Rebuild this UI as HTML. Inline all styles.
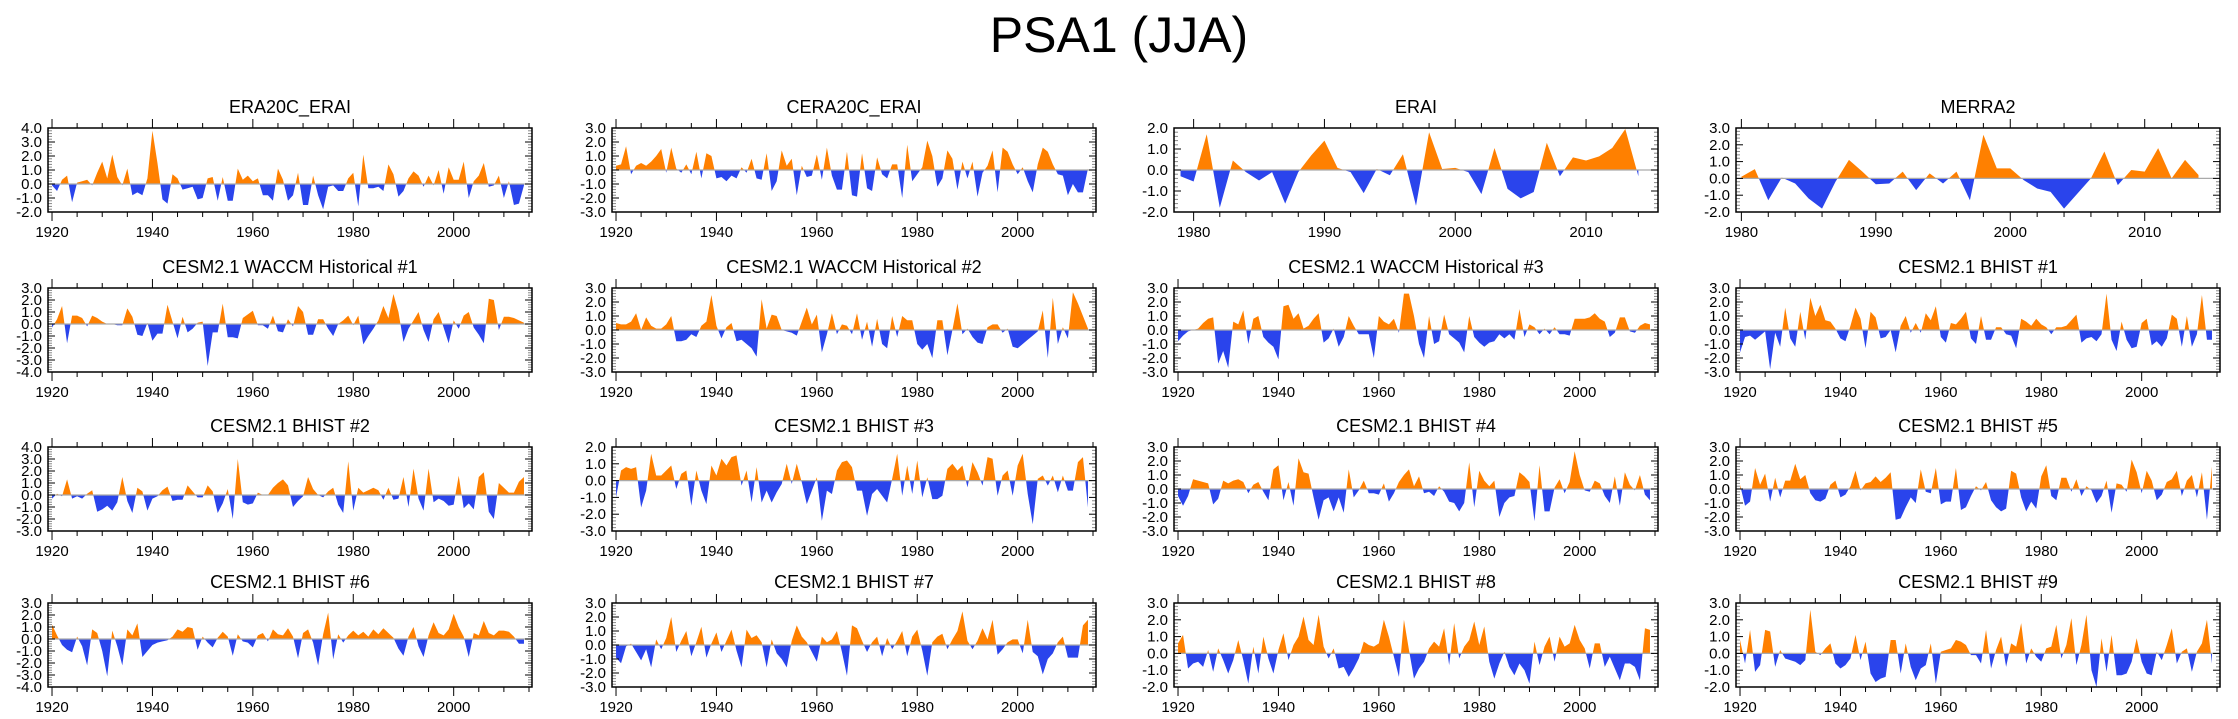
<!DOCTYPE html>
<html><head><meta charset="utf-8"><style>
html,body{margin:0;padding:0;background:#fff}
svg{display:block}
text{font-family:"Liberation Sans",Arial,sans-serif;fill:#000}
</style></head><body>
<svg id="chart" width="2238" height="719" viewBox="0 0 2238 719" xmlns="http://www.w3.org/2000/svg">
<text x="1119" y="52" font-size="50" text-anchor="middle">PSA1 (JJA)</text>
</svg>
<script>
const titles = ["ERA20C_ERAI","CERA20C_ERAI","ERAI","MERRA2",
"CESM2.1 WACCM Historical #1","CESM2.1 WACCM Historical #2","CESM2.1 WACCM Historical #3","CESM2.1 BHIST #1",
"CESM2.1 BHIST #2","CESM2.1 BHIST #3","CESM2.1 BHIST #4","CESM2.1 BHIST #5",
"CESM2.1 BHIST #6","CESM2.1 BHIST #7","CESM2.1 BHIST #8","CESM2.1 BHIST #9"];
const yMaxs = [4,3,2,3, 3,3,3,3, 4,2,3,3, 3,3,3,3];
const yMins = [-2,-3,-2,-2, -4,-3,-3,-3, -3,-3,-3,-3, -4,-3,-2,-2];
const startYears = [1920,1920,1979,1980, 1920,1920,1920,1920, 1920,1920,1920,1920, 1920,1920,1920,1920];
const xMins = [1919.2,1919.2,1978.5,1979.6, 1919.2,1919.2,1919.2,1919.2, 1919.2,1919.2,1919.2,1919.2, 1919.2,1919.2,1919.2,1919.2];
const xMaxs = [2015.6,2015.6,2015.5,2015.6, 2015.6,2015.6,2015.6,2015.6, 2015.6,2015.6,2015.6,2015.6, 2015.6,2015.6,2015.6,2015.6];
const xTickLabels = [[1920,1940,1960,1980,2000],[1980,1990,2000,2010]];

const s_era20c = [-0.1,-0.5,0.3,0.6,-1.3,0.1,0.2,0.3,-0.1,0.8,1.6,0.4,2.1,0.5,-0.1,1.1,-0.8,-0.6,-0.8,0.4,3.8,1.5,-1.1,-1.4,0.7,0.4,-0.4,-0.3,-0.2,-1.1,-1.0,0.4,0.5,-1.2,0.5,-1.2,-1.2,1.1,0.3,0.6,0.2,0.4,-0.8,-0.8,-1.2,1.1,0.3,-1.2,-0.8,0.8,-1.5,-1.5,0.6,-0.8,-1.8,-0.2,-0.1,-0.5,-0.5,0.4,0.8,-1.6,2.1,-0.3,-0.3,-0.2,-0.5,1.4,0.7,-0.9,-0.5,0.4,0.9,0.6,-0.2,0.6,-0.1,1.0,-0.7,1.2,0.3,0.3,1.6,-1.0,0.2,0.6,1.5,-0.2,-0.1,0.6,-1.0,0.2,-1.5,-1.4,-0.1];
const s_cera20c = [0.3,0.4,1.7,-0.3,0.3,0.5,0.3,0.6,1.0,1.5,-0.2,1.6,0.1,-0.2,0.4,-0.3,1.3,-0.6,1.2,1.0,-0.6,-0.5,-0.8,-0.4,-0.6,0.2,-0.2,0.8,-0.6,-0.7,1.2,-1.5,-0.8,1.4,0.3,0.8,-1.8,0.3,-0.5,-0.4,1.1,-0.7,1.6,-0.4,-1.4,-1.4,1.3,-1.8,-1.9,1.2,-1.3,-1.5,0.9,-0.3,-0.6,0.4,0.4,-2.0,1.8,-0.8,-0.3,0.2,2.1,1.0,-1.2,-0.6,1.4,0.8,-1.4,0.6,-0.6,0.6,-1.9,-0.2,0.3,1.4,-1.6,1.6,1.3,0.4,-0.3,0.2,-0.8,-1.6,0.4,1.6,1.3,0.4,-0.3,-0.4,-1.8,-1.0,-1.6,-1.6,0.1];
const s_erai = [-0.3,-0.55,1.7,-1.8,0.45,-0.1,-0.5,-0.1,-1.6,-0.1,0.7,1.4,0.1,-0.1,-1.1,0.05,-0.25,0.75,-1.7,1.8,0.05,0.1,-0.1,-1.15,1.05,-0.9,-1.35,-1.05,1.3,-0.3,0.6,0.45,0.65,1.05,1.95,-0.3];
const s_merra2 = [0.1,0.55,-1.3,0.05,-0.3,-1.2,-1.8,-0.2,1.1,0.4,-0.35,-0.3,0.4,-0.7,0.3,-0.3,0.4,-1.3,2.6,0.6,0.6,-0.1,-0.6,-0.8,-1.8,-0.9,0.0,1.6,-0.4,0.5,0.4,1.8,0.0,1.1,0.2];
const s_waccm1 = [-0.3,0.4,1.5,-1.6,0.7,0.7,0.5,-0.2,0.7,0.5,0.2,0.0,0.0,-0.1,-0.1,1.3,0.6,-0.9,-1.0,0.1,-1.4,-0.8,-0.8,1.6,0.2,-1.2,0.6,-0.7,-0.4,0.1,0.2,-3.5,-0.7,-0.7,1.7,-1.1,-1.1,-1.2,0.5,0.8,1.1,-0.1,-0.1,-0.4,0.7,-0.6,-0.7,0.4,-0.2,1.5,1.0,-0.9,-0.9,0.4,0.4,-0.4,-1.0,0.0,0.3,0.7,-0.1,0.7,-1.7,-1.0,-0.4,0.3,1.5,0.5,2.5,1.0,-1.5,-0.4,0.3,1.0,-0.5,-1.5,0.4,1.0,-0.3,-1.6,0.3,-0.4,0.7,1.0,-0.3,-0.9,-1.6,2.1,2.0,-0.5,0.6,0.6,0.5,0.3,0.1];
const s_waccm2 = [0.5,0.4,0.4,0.6,1.2,0.0,0.9,0.3,0.1,0.1,0.4,1.0,-0.8,-0.8,-0.7,-0.3,-0.5,0.3,0.6,2.5,0.3,-0.6,0.2,0.5,-0.8,-0.7,-1.0,-1.3,-1.9,2.2,0.1,1.1,1.0,0.0,-0.1,-0.2,-0.4,0.6,1.6,0.4,1.1,-1.6,-0.3,1.2,-0.3,0.4,0.3,-0.3,1.2,-0.7,0.6,-1.2,0.8,-1.0,-1.3,1.0,-0.5,1.0,0.7,0.7,-1.0,-1.4,-1.0,-2.0,0.7,0.7,-1.8,0.0,1.9,-0.3,0.1,-0.5,-0.9,-1.0,0.2,0.4,0.4,-0.2,0.1,-1.2,-1.3,-1.0,-0.7,-0.4,-0.1,1.4,-2.0,2.3,-1.0,0.2,-0.6,2.7,1.9,1.0,0.1];
const s_waccm3 = [-0.8,-0.4,-0.1,0.0,0.1,0.5,0.8,0.9,-2.4,-1.5,-2.7,0.6,0.4,1.4,-1.0,0.8,1.0,-0.5,-0.9,-1.2,-2.1,1.7,1.8,0.8,1.2,0.1,0.3,0.8,1.2,-0.9,-0.6,0.1,-1.2,-0.5,1.0,0.3,-0.3,-0.3,-0.3,-2.0,1.0,0.6,0.4,0.8,-0.2,2.6,2.6,1.0,-1.0,-2.0,1.0,-1.0,-0.8,1.1,-0.3,-0.6,-0.9,-1.6,1.0,-0.5,-0.9,-1.2,-0.9,-0.8,-0.3,-0.6,-0.3,-0.7,1.5,-0.5,0.4,0.2,-0.3,0.1,-0.3,0.2,-0.3,-0.3,-0.4,0.8,0.8,0.8,0.9,1.2,0.8,0.6,-0.5,-0.2,0.9,0.9,-0.1,-0.2,0.3,0.5,0.4];
const s_bhist1 = [-1.6,-0.5,-0.4,-0.7,-0.4,-0.1,-2.8,-0.2,-1.2,1.6,-0.6,-1.2,1.3,-0.7,2.3,1.0,1.8,0.7,0.6,0.1,-0.6,-0.8,0.3,1.6,0.8,-1.3,1.3,0.9,-0.6,-0.5,0.0,-1.6,0.3,1.0,-0.2,0.5,-0.2,1.2,0.7,1.7,-0.5,-0.9,0.5,0.4,0.8,1.3,-0.6,-1.0,1.0,-0.7,-0.7,0.2,0.2,-0.3,-0.4,-1.3,0.8,0.6,0.3,0.8,0.4,0.2,-0.3,0.2,0.2,0.3,0.7,1.1,-0.9,-0.6,-0.5,-0.8,-0.3,2.6,-0.7,-1.5,0.6,-0.7,-1.3,-1.2,0.5,0.8,-1.1,-0.8,-1.2,-0.6,1.1,0.8,-1.2,1.0,-1.2,-0.3,2.5,-0.7,-0.7];
const s_bhist2 = [-0.3,0.1,-0.1,1.3,-0.3,-0.1,-0.3,0.1,0.4,-1.4,-1.2,-0.9,-1.3,-0.6,1.5,-0.5,-1.5,0.6,0.3,-1.3,-0.3,-0.1,0.4,0.7,-0.5,-0.4,-0.4,0.8,0.3,-0.2,-0.2,0.8,0.3,-1.5,-0.7,0.5,-2.0,3.0,-0.6,-0.8,-0.7,0.2,0.0,0.0,0.6,1.0,1.3,0.8,-1.0,-0.5,-0.1,1.5,0.5,0.0,-0.2,0.3,0.6,-0.8,-1.5,2.8,-1.3,0.6,0.2,0.4,0.6,0.4,-0.4,0.6,-0.4,-0.3,1.5,-1.0,2.2,-0.3,-1.3,2.2,-0.6,-0.3,-0.5,-0.9,-0.8,1.6,-1.1,-0.7,-1.2,1.5,1.9,-1.4,-2.0,1.0,0.6,0.2,0.2,1.1,1.5];
const s_bhist3 = [-1.0,0.6,0.8,0.7,0.8,-1.6,-0.6,1.6,0.3,0.3,0.6,0.9,-0.5,0.4,0.6,-1.5,0.6,-0.6,-1.4,0.9,0.3,1.3,0.9,1.4,1.5,-0.3,0.6,-1.3,0.8,-1.3,-0.6,-1.3,-0.7,-0.2,1.0,-0.2,1.0,-0.1,-1.4,-0.6,0.2,-2.4,-0.6,-0.8,0.6,1.1,1.2,0.8,-0.6,-0.6,-2.1,-0.8,-0.5,-0.9,-1.3,0.1,1.6,-0.9,0.9,-0.8,1.2,-1.0,0.2,-1.1,-1.1,-0.9,0.7,1.0,0.6,0.9,-0.4,1.1,0.5,-0.3,1.4,1.3,-0.9,0.3,0.6,-0.9,0.9,1.6,-0.8,-2.6,0.1,0.3,-0.3,0.3,-0.7,0.3,-0.6,-0.6,1.1,1.4,-1.6];
const s_bhist4 = [-0.5,-1.2,-0.5,0.7,0.6,0.5,0.4,-1.1,-0.7,0.6,0.4,0.6,0.7,0.5,-0.3,0.3,0.5,-0.2,-0.8,1.4,1.7,-0.8,0.5,-1.2,2.2,1.2,1.1,-0.6,-2.2,-0.8,-0.6,-1.6,-0.6,-1.7,1.4,-0.6,-0.1,0.6,-0.3,-0.3,-0.4,0.4,-0.9,-0.3,0.5,1.0,1.4,0.2,0.9,-0.3,-0.2,-0.5,0.2,-0.2,-0.9,-1.0,-1.6,-1.0,1.9,-1.3,1.3,0.6,0.2,0.6,-2.0,-1.0,-0.6,-0.5,1.2,0.9,0.5,-2.3,1.7,-1.6,-1.6,0.1,0.7,-0.3,0.5,2.7,1.0,-0.1,-0.2,0.6,0.4,-0.5,-1.0,0.9,-1.2,1.2,0.3,-0.1,1.0,-0.4,-0.8];
const s_bhist5 = [0.3,-1.2,-0.9,1.5,0.3,1.1,-0.9,0.8,-0.6,0.6,0.6,1.8,0.7,1.0,-0.3,-0.8,-0.9,-0.7,0.3,0.6,-0.6,-0.4,0.2,1.3,-0.1,0.4,0.5,0.9,0.5,0.8,1.2,-2.2,-2.1,-1.3,-0.6,-1.0,1.4,-0.2,-0.3,1.5,-1.1,-0.9,-0.9,1.5,-1.5,-1.3,-0.5,0.2,-0.1,0.5,-0.8,-1.3,-1.6,-1.4,1.3,1.1,-0.6,-1.6,-0.9,-1.4,0.9,1.7,-0.5,-0.8,0.8,0.8,-0.2,0.7,-0.5,0.2,-0.1,-1.0,-0.5,0.6,-1.7,0.4,0.3,-0.2,2.1,1.2,-0.3,1.3,0.6,-0.8,-0.4,0.5,0.7,1.3,-0.5,0.6,1.0,-0.6,1.2,-2.2,1.6];
const s_bhist6 = [1.2,0.3,-0.5,-0.9,-1.1,0.2,-0.6,-2.2,0.8,0.5,-1.0,-3.1,0.7,-0.6,-2.2,0.8,0.3,1.3,-1.5,-1.0,-0.5,-0.3,-0.2,-0.1,0.2,0.8,0.6,1.0,0.9,-0.9,0.2,-0.3,-0.7,0.1,0.6,0.2,-1.4,0.4,-0.2,-0.3,-0.7,0.3,0.5,-0.2,0.8,0.4,0.3,0.9,0.2,-1.6,0.5,0.8,-0.3,-2.2,0.4,2.2,-1.7,0.4,-0.3,0.3,0.7,0.3,0.6,0.2,0.8,0.4,0.9,0.5,0.1,-0.8,-1.4,0.2,1.0,-0.6,-1.5,0.3,1.4,0.5,0.3,0.8,2.1,1.0,0.2,-1.5,0.5,0.3,1.5,0.5,0.3,0.7,0.7,0.6,0.2,-0.4,-0.4];
const s_bhist7 = [-0.9,-1.3,-0.1,0.1,-0.5,-1.1,-0.3,-1.6,0.4,-0.3,0.5,2.0,-0.5,0.3,1.0,-0.8,0.2,1.3,-0.9,0.1,0.9,-0.5,0.3,1.1,-0.4,-1.6,1.1,0.5,0.7,0.2,-1.6,0.4,-0.6,-1.0,-1.6,0.3,1.4,0.6,0.2,-0.5,-1.2,0.6,0.2,0.4,1.0,-0.5,-2.2,1.4,1.2,0.3,-0.5,0.2,0.6,-0.8,0.5,-0.3,0.3,1.0,-0.8,0.6,1.1,-0.4,-2.2,0.2,0.6,0.8,-0.3,0.4,1.0,2.4,0.3,-0.3,0.3,1.2,0.4,1.8,-0.7,-0.3,0.2,0.4,0.4,-0.6,1.8,-0.5,-0.8,-2.1,-1.0,-0.6,0.2,0.6,-0.9,-0.9,-0.9,1.4,1.8];
const s_bhist8 = [0.6,1.1,-0.9,-0.6,-0.5,-0.8,0.2,-1.1,0.3,-0.4,-1.2,-0.4,0.8,-0.4,-1.8,0.4,-1.2,1.0,-0.3,-1.2,0.2,1.2,-0.4,0.5,1.0,2.2,0.8,0.5,2.3,0.4,-0.3,0.3,-0.9,-0.8,-1.4,-0.9,-0.3,0.7,0.5,0.4,0.6,2.0,1.0,-0.2,-1.4,2.0,0.2,-1.5,-0.9,-0.5,0.3,0.7,0.4,1.5,-0.7,1.8,-0.3,0.4,0.8,1.9,0.5,1.6,-0.5,-1.5,-0.6,0.1,-0.8,-1.3,-0.6,-1.0,-1.8,0.7,-0.7,0.4,1.0,-0.5,1.0,0.4,0.6,1.7,0.8,0.3,-0.9,0.6,0.6,-0.8,-0.2,-0.9,-1.6,-0.6,-0.6,-0.8,-1.6,1.5,1.4];
const s_bhist9 = [0.8,-0.6,1.4,-1.1,-0.7,1.4,1.3,-0.8,0.2,-0.3,-0.4,-0.5,-0.7,-0.4,2.6,0.1,-0.1,0.3,0.6,-0.6,-0.9,-0.7,-0.3,1.1,-0.4,0.7,-1.2,-1.7,-1.5,-1.4,0.8,0.8,-1.2,0.6,-0.8,-1.6,-0.9,-0.7,0.6,-1.8,0.1,0.2,0.3,0.8,0.7,0.5,-0.1,-0.1,-0.6,1.4,-0.9,0.2,1.0,-0.8,0.6,0.4,1.8,-0.6,0.3,-0.2,-0.5,0.3,0.4,1.7,-0.3,0.5,2.1,-0.7,0.5,2.3,-1.0,-2.0,0.9,-1.1,1.1,-1.3,-1.3,-1.2,-0.5,0.9,-0.5,-1.2,-1.3,0.1,-0.4,0.5,1.5,-0.6,0.1,0.3,-1.1,0.1,0.6,2.0,-0.6];

const seriesList = [s_era20c,s_cera20c,s_erai,s_merra2,s_waccm1,s_waccm2,s_waccm3,s_bhist1,s_bhist2,s_bhist3,s_bhist4,s_bhist5,s_bhist6,s_bhist7,s_bhist8,s_bhist9];

const NS = "http://www.w3.org/2000/svg";
const svg = document.getElementById("chart");
const colLefts = [48, 612, 1174, 1736];
const rowTops = [128, 288, 447, 603];
const W = 484, H = 84;
function mk(tag, attrs, parent) {
  const e = document.createElementNS(NS, tag);
  for (const k in attrs) e.setAttribute(k, attrs[k]);
  parent.appendChild(e);
  return e;
}
const defs = mk("defs", {}, svg);

for (let p = 0; p < 16; p++) {
  const x0 = colLefts[p % 4], y0 = rowTops[Math.floor(p / 4)];
  const ymin = yMins[p], ymax = yMaxs[p], xmin = xMins[p], xmax = xMaxs[p];
  const sx = v => x0 + (v - xmin) / (xmax - xmin) * W;
  const sy = v => y0 + (ymax - v) / (ymax - ymin) * H;
  const g = mk("g", {}, svg);
  
  

  const t = mk("text", {x: x0 + W / 2, y: y0 - 15, "font-size": 18, "text-anchor": "middle"}, g);
  t.textContent = titles[p];
  
  

  const data = seriesList[p];
  const y0v = sy(0);
  let d = "M" + sx(startYears[p]).toFixed(2) + "," + y0v.toFixed(2);
  data.forEach((v, i) => { d += " L" + sx(startYears[p] + i).toFixed(2) + "," + sy(v).toFixed(2); });
  d += " L" + sx(startYears[p] + data.length - 1).toFixed(2) + "," + y0v.toFixed(2) + " Z";

  const cpA = mk("clipPath", {id: "ca" + p}, defs);
  mk("rect", {x: x0, y: y0, width: W, height: y0v - y0}, cpA);
  const cpB = mk("clipPath", {id: "cb" + p}, defs);
  mk("rect", {x: x0, y: y0v, width: W, height: y0 + H - y0v}, cpB);

  const pos = mk("path", {d: d, fill: "#ff8000", "clip-path": "url(#ca" + p + ")"}, g);
  
  
  const neg = mk("path", {d: d, fill: "#2a44ec", "clip-path": "url(#cb" + p + ")"}, g);
  
  
  mk("line", {x1: x0, x2: x0 + W, y1: y0v, y2: y0v, stroke: "#aaaaaa", "stroke-width": 1.2}, g);

  for (let v = ymin; v <= ymax + 1e-6; v += 1) {
    const yy = sy(v);
    mk("line", {x1: x0, x2: x0 + 7, y1: yy, y2: yy, stroke: "#000", "stroke-width": 1}, g);
    mk("line", {x1: x0 + W - 7, x2: x0 + W, y1: yy, y2: yy, stroke: "#000", "stroke-width": 1}, g);
    const lb = mk("text", {x: x0 - 6, y: yy + 5, "font-size": 15, "text-anchor": "end"}, g);
    lb.textContent = v.toFixed(1);
    
    
    if (v < ymax) for (let m = 1; m < 5; m++) {
      const ym = sy(v + m * 0.2);
      mk("line", {x1: x0, x2: x0 + 4, y1: ym, y2: ym, stroke: "#888", "stroke-width": 1}, g);
      mk("line", {x1: x0 + W - 4, x2: x0 + W, y1: ym, y2: ym, stroke: "#888", "stroke-width": 1}, g);
    }
  }
  const short = (p === 2 || p === 3);
  const labels = short ? xTickLabels[1] : xTickLabels[0];
  const minorStep = short ? 2 : 5;
  for (let yr = Math.ceil(xmin); yr <= xmax; yr++) {
    if (yr % minorStep !== 0) continue;
    const xx = sx(yr);
    const major = labels.indexOf(yr) >= 0;
    const L = major ? 9 : 5;
    mk("line", {x1: xx, x2: xx, y1: y0 - L, y2: y0, stroke: "#000", "stroke-width": 1}, g);
    mk("line", {x1: xx, x2: xx, y1: y0 + H, y2: y0 + H + L, stroke: "#000", "stroke-width": 1}, g);
  }
  labels.forEach(yr => {
    const lb = mk("text", {x: sx(yr), y: y0 + H + 25, "font-size": 15, "text-anchor": "middle"}, g);
    lb.textContent = yr;
    
    
  });
  const box = mk("rect", {x: x0, y: y0, width: W, height: H, fill: "none", stroke: "#000", "stroke-width": 1.5}, g);
  
  
}
</script>
</body></html>
